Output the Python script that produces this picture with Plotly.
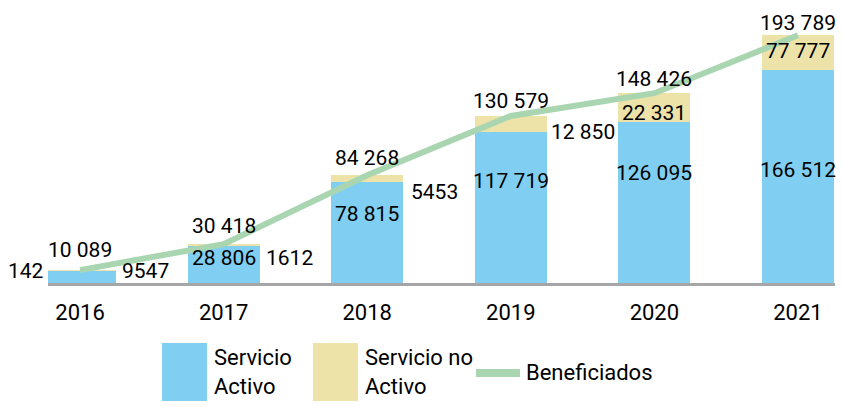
import plotly.graph_objects as go

# data
years = ["2016", "2017", "2018", "2019", "2020", "2021"]
activo = [9547, 28806, 78815, 117719, 126095, 166512]
no_activo = [142, 1612, 5453, 12850, 22331, 27277]
beneficiados = [10089, 30418, 84268, 130579, 148426, 193789]

lbl_activo = ["9547", "28 806", "78 815", "117 719", "126 095", "166 512"]
lbl_no = ["142", "1612", "5453", "12 850", "22 331", "77 777"]
lbl_ben = ["10 089", "30 418", "84 268", "130 579", "148 426", "193 789"]

BLUE = "#80cff3"
BEIGE = "#ede3a8"
GREEN = "#a9d6b1"
FONT = "Roboto, sans-serif"
W, H = 842, 407
BOTTOM = 124
FS = 21
x = list(range(len(years)))
bw = 0.5

fig = go.Figure()
fig.add_trace(go.Bar(x=x, y=activo, width=bw, marker=dict(color=BLUE, line_width=0), name="Servicio Activo"))
fig.add_trace(go.Bar(x=x, y=no_activo, width=bw, marker=dict(color=BEIGE, line_width=0), name="Servicio no Activo"))
fig.add_trace(go.Scatter(x=x, y=beneficiados, mode="lines", line=dict(color=GREEN, width=6), name="Beneficiados"))

ann = []
def lab(text, xx, yy, xanchor="center", yanchor="middle", xshift=0, yshift=0):
    ann.append(dict(text=text, x=xx, y=yy, xref="x", yref="y", showarrow=False,
                    xanchor=xanchor, yanchor=yanchor, xshift=xshift, yshift=yshift,
                    font=dict(size=FS, color="black", family=FONT)))

half = 36  # half bar width in px

# totals above the line
for i in x:
    lab(lbl_ben[i], i, beneficiados[i], yanchor="bottom", yshift=6 - 1.5 * i)

# Servicio Activo values
lab(lbl_activo[0], 0, activo[0] + no_activo[0], xanchor="left", xshift=half + 4)
for i in x[1:]:
    lab(lbl_activo[i], i, min(activo[i] * 0.68, 88000))

# Servicio no Activo values
lab(lbl_no[0], 0, activo[0] + no_activo[0], xanchor="right", xshift=-half + 2)
lab(lbl_no[1], 1, min(activo[1] * 0.68, 88000), xanchor="left", xshift=half + 4)
lab(lbl_no[2], 2, activo[2], xanchor="left", xshift=half + 6, yshift=-10)
lab(lbl_no[3], 3, activo[3], xanchor="left", xshift=half + 2)
lab(lbl_no[4], 4, activo[4] + no_activo[4] / 2, yshift=-6)
lab(lbl_no[5], 5, activo[5] + no_activo[5] * 0.55)

# legend drawn by hand (big swatches)
def px_x(v):
    return v / W

def px_y(v):
    return (H - BOTTOM - v) / (H - BOTTOM)

shapes = []
for x0, col in [(162, BLUE), (313, BEIGE)]:
    shapes.append(dict(type="rect", xref="paper", yref="paper", x0=px_x(x0), x1=px_x(x0 + 45),
                       y0=px_y(401), y1=px_y(343), fillcolor=col, line_width=0))
shapes.append(dict(type="line", xref="paper", yref="paper", x0=px_x(476), x1=px_x(520),
                   y0=px_y(373), y1=px_y(373), line=dict(color=GREEN, width=8)))
for xx, txt in [(212, "Servicio<br>Activo"), (363, "Servicio no<br>Activo"), (524, "Beneficiados")]:
    ann.append(dict(text=txt, x=px_x(xx), y=px_y(372), xref="paper", yref="paper", showarrow=False,
                    xanchor="left", yanchor="middle", align="left",
                    font=dict(size=22, color="black", family=FONT)))

fig.update_layout(
    width=W, height=H, barmode="stack", showlegend=False,
    margin=dict(l=0, r=0, t=0, b=BOTTOM),
    plot_bgcolor="white", paper_bgcolor="white",
    annotations=ann, shapes=shapes,
    font=dict(family=FONT, color="black"),
)
fig.update_xaxes(domain=[48 / W, 835 / W], range=[-0.223, 5.258], tickvals=x, ticktext=years,
                 showline=True, linecolor="#a6a6a6", linewidth=3, showgrid=False, zeroline=False,
                 ticks="", ticklabelstandoff=8, tickfont=dict(size=22, family=FONT, color="black"))
fig.update_yaxes(range=[0, 221300], visible=False, showgrid=False, zeroline=False)

fig.write_html("out.html", config={"displayModeBar": False},
               post_script="document.body.style.margin='0';")
